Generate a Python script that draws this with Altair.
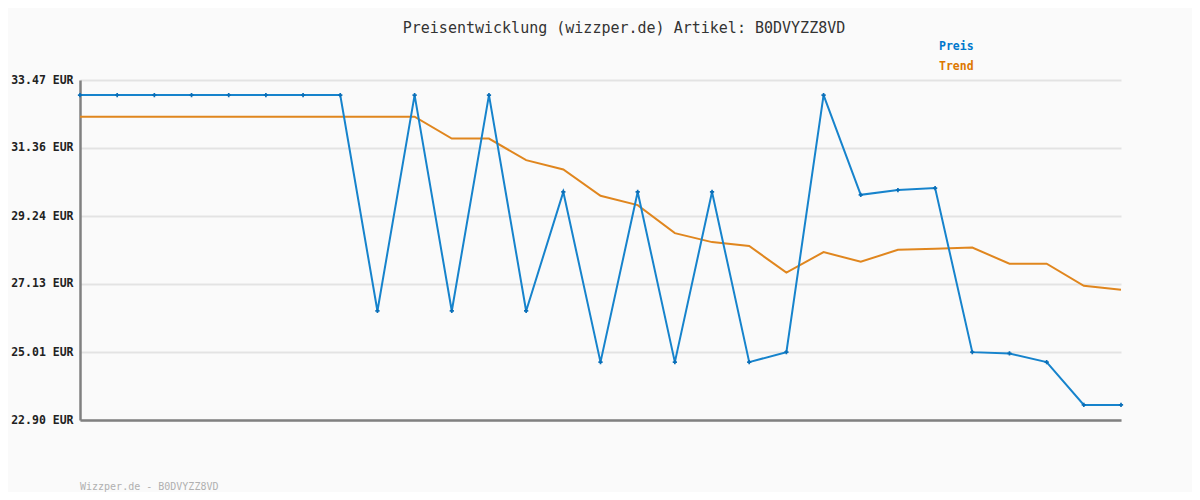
import altair as alt
import pandas as pd

idx = list(range(29))
preis = [33.00, 33.00, 33.00, 33.00, 33.00, 33.00, 33.00, 33.00,
         26.29, 33.00, 26.29, 33.00, 26.29, 29.99, 24.70, 29.99,
         24.70, 29.99, 24.70, 25.01, 33.00, 29.90, 30.05, 30.11,
         25.01, 24.97, 24.70, 23.37, 23.37]
trend = [32.33, 32.33, 32.33, 32.33, 32.33, 32.33, 32.33, 32.33,
         32.33, 32.33, 31.65, 31.65, 30.98, 30.69, 29.87, 29.58,
         28.71, 28.43, 28.31, 27.48, 28.12, 27.82, 28.19, 28.22,
         28.26, 27.76, 27.76, 27.07, 26.95]
ticks = [22.90, 25.01, 27.13, 29.24, 31.36, 33.47]

df = pd.DataFrame({"i": idx, "Preis": preis, "Trend": trend})

FONT = "DejaVu Sans Mono"
BLUE = "#1683cc"
ORANGE = "#e0861e"

xs = alt.X("i:Q", scale=alt.Scale(domain=[0, 28], nice=False, zero=False),
           axis=alt.Axis(labels=False, ticks=False, grid=False, title=None,
                         domain=True, domainColor="#808080", domainWidth=2.5))
ys_scale = alt.Scale(domain=[22.90, 33.47], nice=False, zero=False)

yaxis = alt.Axis(values=ticks, title=None, tickSize=0, labelPadding=7,
                 labelExpr="format(datum.value, '.2f') + ' EUR'",
                 labelFont=FONT, labelFontSize=11.5, labelFontWeight="bold",
                 labelColor="#222222", grid=True, gridColor="#e3e3e3", gridWidth=2,
                 domain=True, domainColor="#808080", domainWidth=2.5)

trend_line = alt.Chart(df).mark_line(color=ORANGE, strokeWidth=2).encode(
    x=xs, y=alt.Y("Trend:Q", scale=ys_scale, axis=yaxis))
preis_line = alt.Chart(df).mark_line(color=BLUE, strokeWidth=2).encode(
    x=xs, y=alt.Y("Preis:Q", scale=ys_scale))
preis_pts = alt.Chart(df).mark_point(shape="cross", filled=True, color="#0a6fb8",
                                     size=18, opacity=1).encode(
    x=xs, y=alt.Y("Preis:Q", scale=ys_scale))

def label(txt, x, y, color, size, weight="normal", align="left"):
    return alt.Chart(pd.DataFrame({"t": [txt]})).mark_text(
        font=FONT, fontSize=size, fontWeight=weight, color=color,
        align=align, baseline="middle").encode(
        text="t:N", x=alt.value(x), y=alt.value(y))

title = label("Preisentwicklung (wizzper.de) Artikel: B0DVYZZ8VD", 544, -52,
              "#333333", 15, align="center")
leg1 = label("Preis", 859, -33, "#0077cc", 11.5, "bold")
leg2 = label("Trend", 859, -13, "#dd7700", 11.5, "bold")
footer = label("Wizzper.de - B0DVYZZ8VD", 0, 407, "#b0b0b0", 10)

chart = alt.layer(trend_line, preis_line, preis_pts, title, leg1, leg2, footer).properties(
    width=1041, height=340, background="#fafafa",
    padding={"left": 72, "top": 72, "right": 71, "bottom": 72},
    autosize=alt.AutoSizeParams(type="none"),
).configure_view(stroke=None)

chart.save("out.html", embed_options={"renderer": "svg", "actions": False})
